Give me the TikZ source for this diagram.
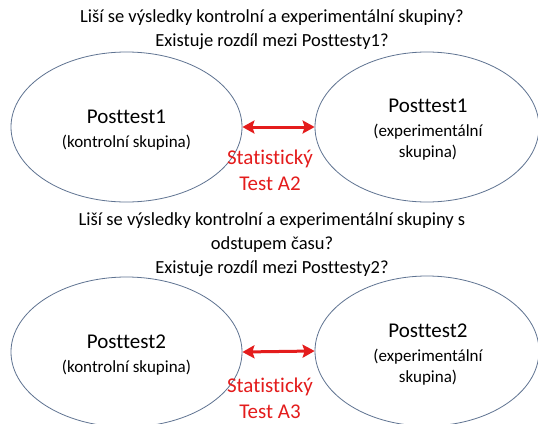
\documentclass[tikz,border=0pt]{standalone}
\usepackage{fontspec}
\setmainfont{Carlito}[Ligatures={NoCommon}]
\usetikzlibrary{arrows.meta,shapes.geometric}
\definecolor{ellcol}{RGB}{95,115,145}
\definecolor{redcol}{RGB}{228,28,28}
\tikzset{
  grp/.style={draw=ellcol, line width=0.8pt, ellipse, minimum width=231pt, minimum height=150pt, inner sep=0pt},
  grptxt/.style={align=center, inner sep=0pt, font=\fontsize{17}{21}\selectfont},
  question/.style={font=\fontsize{18.5}{24}\selectfont, align=center, text=black},
  cmp/.style={draw=redcol, line width=3pt, {Stealth[length=12pt,width=13pt,inset=2pt]}-{Stealth[length=12pt,width=13pt,inset=2pt]}},
  testlbl/.style={text=redcol, font=\fontsize{21}{26}\selectfont, align=center}
}
\newcommand{\bigtxt}[1]{{\fontsize{21}{24}\selectfont #1}}
\begin{document}
\begin{tikzpicture}[x=1pt,y=-1pt]
\useasboundingbox (0,0) rectangle (538,423);
\fill[white] (0,0) rectangle (538,423);
% top
\node[question] (q1) at (272,30) {Liší se výsledky kontrolní a experimentální skupiny?\\Existuje rozdíl mezi Posttesty1?};
\node[grp] (L1) at (126.5,127) {};
\node[grptxt] (L1t) at (126.5,130) {\bigtxt{Posttest1}\\[3pt](kontrolní skupina)};
\node[grp, minimum width=224pt] (R1) at (427,127) {};
\node[grptxt] (R1t) at (428,130) {\bigtxt{Posttest1}\\[3pt](experimentální\\skupina)};
\draw[cmp] (L1.east) -- (R1.west);
\node[testlbl] (t1) at (270,170) {Statistický\\Test A2};
% bottom
\node[question] (q2) at (272,245) {Liší se výsledky kontrolní a experimentální skupiny s\\odstupem času?\\Existuje rozdíl mezi Posttesty2?};
\node[grp] (L2) at (126.5,352) {};
\node[grptxt] (L2t) at (126.5,355) {\bigtxt{Posttest2}\\[3pt](kontrolní skupina)};
\node[grp, minimum width=224pt] (R2) at (427,351) {};
\node[grptxt] (R2t) at (428,355) {\bigtxt{Posttest2}\\[3pt](experimentální\\skupina)};
\draw[cmp] (L2.east) -- (R2.west);
\node[testlbl] (t2) at (270,398) {Statistický\\Test A3};
\end{tikzpicture}
\end{document}
